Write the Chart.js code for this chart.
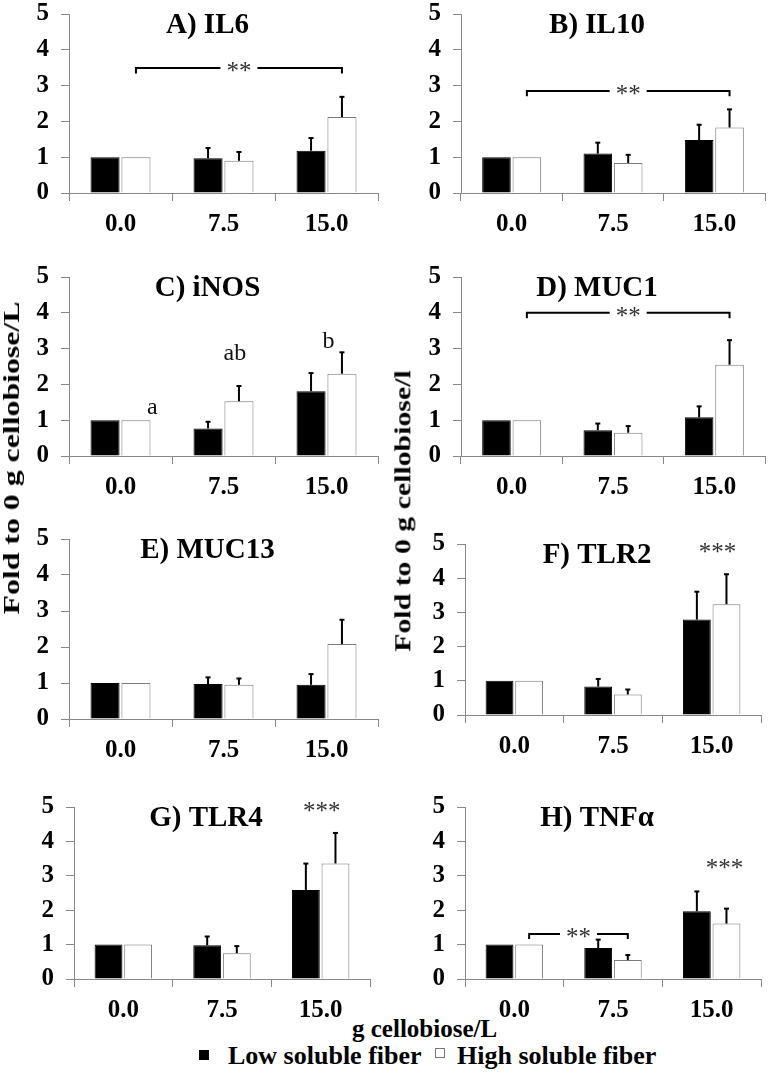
<!DOCTYPE html>
<html>
<head>
<meta charset="utf-8">
<script src="https://cdn.jsdelivr.net/npm/chart.js@4.4.1/dist/chart.umd.min.js"></script>
<style>
  html, body { margin:0; padding:0; background:#fff; }
  body { width:771px; height:1082px; position:relative; overflow:hidden; font-family:"Liberation Serif","Times New Roman",serif; }
  canvas.pc { position:absolute; }
  .rot { position:absolute; white-space:nowrap; font-weight:bold; font-size:24px; line-height:24px; color:#000; z-index:5; }
  .txt { position:absolute; white-space:nowrap; font-weight:bold; color:#000; }
  .sw { position:absolute; width:10px; height:10px; box-sizing:border-box; }
</style>
</head>
<body>
<div class="rot" id="ytl"></div>
<div class="rot" id="ytr"></div>
<div class="txt" id="xtitle" style="left:352px; top:1016px; font-size:25px; line-height:25px;"></div>
<span class="sw" style="left:199px; top:1050px; background:#000; border:1px solid #000;"></span>
<div class="txt" id="lg1" style="left:228px; top:1043px; font-size:26px; line-height:26px;"></div>
<span class="sw" style="left:435px; top:1048px; background:#fff; border:1px solid #777;"></span>
<div class="txt" id="lg2" style="left:457px; top:1043px; font-size:26px; line-height:26px;"></div>
<script>
// ---------- data ----------
const categories = ['0.0', '7.5', '15.0'];
const seriesNames = ['Low soluble fiber', 'High soluble fiber'];
const panelTitles = ['A) IL6', 'B) IL10', 'C) iNOS', 'D) MUC1', 'E) MUC13', 'F) TLR2', 'G) TLR4', 'H) TNFα'];
const yAxisTitles = ['Fold to 0 g cellobiose/L', 'Fold to 0 g cellobiose/l'];
const xAxisTitle = 'g cellobiose/L';
const yMin = 0, yMax = 5, yStep = 1;

const il6Low = [1.00, 0.97, 1.18];     const il6LowErr = [0, 0.30, 0.37];
const il6High = [1.00, 0.90, 2.12];    const il6HighErr = [0, 0.26, 0.58];
const il10Low = [1.00, 1.10, 1.48];    const il10LowErr = [0, 0.32, 0.44];
const il10High = [1.00, 0.84, 1.83];   const il10HighErr = [0, 0.24, 0.52];
const inosLow = [1.00, 0.77, 1.81];    const inosLowErr = [0, 0.20, 0.52];
const inosHigh = [1.00, 1.53, 2.30];   const inosHighErr = [0, 0.44, 0.61];
const muc1Low = [1.00, 0.72, 1.08];    const muc1LowErr = [0, 0.20, 0.32];
const muc1High = [1.00, 0.65, 2.55];   const muc1HighErr = [0, 0.20, 0.70];
const muc13Low = [1.00, 0.97, 0.95];   const muc13LowErr = [0, 0.20, 0.31];
const muc13High = [1.00, 0.95, 2.08];  const muc13HighErr = [0, 0.19, 0.69];
const tlr2Low = [1.00, 0.83, 2.79];    const tlr2LowErr = [0, 0.24, 0.83];
const tlr2High = [1.00, 0.60, 3.24];   const tlr2HighErr = [0, 0.16, 0.89];
const tlr4Low = [1.00, 0.98, 2.59];    const tlr4LowErr = [0, 0.27, 0.78];
const tlr4High = [1.00, 0.75, 3.36];   const tlr4HighErr = [0, 0.22, 0.90];
const tnfLow = [1.00, 0.90, 1.97];     const tnfLowErr = [0, 0.26, 0.59];
const tnfHigh = [1.00, 0.55, 1.61];    const tnfHighErr = [0, 0.16, 0.45];

// significance brackets (between high-fiber bars of two categories) and text marks
const il6Brackets = [{from:0, to:2, y:3.49, label:'**'}];
const il10Brackets = [{from:0, to:2, y:2.85, label:'**'}];
const muc1Brackets = [{from:0, to:2, y:4.00, label:'**'}];
const tnfBrackets = [{from:0, to:1, y:1.31, label:'**'}];
const inosLetters = [{cat:0.31, y:1.41, text:'a'}, {cat:1.11, y:2.91, text:'ab'}, {cat:2.02, y:3.25, text:'b'}];
const tlr2Stars = [{cat:2.06, y:4.86, text:'***'}];
const tlr4Stars = [{cat:2.01, y:4.98, text:'***'}];
const tnfStars = [{cat:2.13, y:3.30, text:'***'}];

// ---------- layout (plot rectangles: left, top, right, bottom) ----------
const panels = [
  {title:panelTitles[0], low:il6Low, lowErr:il6LowErr, high:il6High, highErr:il6HighErr, brackets:il6Brackets, marks:[], rect:[69,12,378,193]},
  {title:panelTitles[1], low:il10Low, lowErr:il10LowErr, high:il10High, highErr:il10HighErr, brackets:il10Brackets, marks:[], rect:[461,12,765,193]},
  {title:panelTitles[2], low:inosLow, lowErr:inosLowErr, high:inosHigh, highErr:inosHighErr, brackets:[], marks:inosLetters, rect:[69,275,378,456]},
  {title:panelTitles[3], low:muc1Low, lowErr:muc1LowErr, high:muc1High, highErr:muc1HighErr, brackets:muc1Brackets, marks:[], rect:[461,275,765,456]},
  {title:panelTitles[4], low:muc13Low, lowErr:muc13LowErr, high:muc13High, highErr:muc13HighErr, brackets:[], marks:[], rect:[69,537,378,719]},
  {title:panelTitles[5], low:tlr2Low, lowErr:tlr2LowErr, high:tlr2High, highErr:tlr2HighErr, brackets:[], marks:tlr2Stars, rect:[465,542,761,715]},
  {title:panelTitles[6], low:tlr4Low, lowErr:tlr4LowErr, high:tlr4High, highErr:tlr4HighErr, brackets:[], marks:tlr4Stars, rect:[74,805,370,979]},
  {title:panelTitles[7], low:tnfLow, lowErr:tnfLowErr, high:tnfHigh, highErr:tnfHighErr, brackets:tnfBrackets, marks:tnfStars, rect:[465,805,761,979]}
];

const FONT = '"Liberation Serif","Times New Roman",serif';
const PAD_L = 5, YW = 70, PAD_T = 25, PAD_R = 10, XH = 50, PAD_B = 5;

const extrasPlugin = {
  id: 'panelExtras',
  afterDatasetsDraw(chart, args, opts) {
    const ctx = chart.ctx, xs = chart.scales.x, ys = chart.scales.y, ca = chart.chartArea;
    const catW = xs.getPixelForValue(1) - xs.getPixelForValue(0);
    ctx.save();
    // error bars (upper only)
    chart.data.datasets.forEach((ds, di) => {
      const meta = chart.getDatasetMeta(di);
      const errs = opts.errors[di];
      meta.data.forEach((bar, i) => {
        const e = errs[i];
        if (!e) return;
        const v = ds.data[i];
        const y0 = ys.getPixelForValue(v), y1 = ys.getPixelForValue(v + e);
        ctx.strokeStyle = '#000';
        ctx.lineWidth = 2;
        ctx.beginPath(); ctx.moveTo(bar.x, y0); ctx.lineTo(bar.x, y1); ctx.stroke();
        ctx.beginPath(); ctx.moveTo(bar.x - 2.5, y1 + 0.5); ctx.lineTo(bar.x + 2.5, y1 + 0.5); ctx.stroke();
      });
    });
    // brackets
    const highMeta = chart.getDatasetMeta(1);
    (opts.brackets || []).forEach(b => {
      const x1 = highMeta.data[b.from].x, x2 = highMeta.data[b.to].x;
      const yy = ys.getPixelForValue(b.y), yd = ys.getPixelForValue(b.y - 0.15);
      ctx.font = '25px ' + FONT;
      const tw = ctx.measureText(b.label).width;
      const cx = (x1 + x2) / 2;
      ctx.strokeStyle = '#000';
      ctx.lineWidth = 2;
      ctx.beginPath();
      ctx.moveTo(x1, yd); ctx.lineTo(x1, yy); ctx.lineTo(cx - tw/2 - 6, yy);
      ctx.moveTo(cx + tw/2 + 6, yy); ctx.lineTo(x2, yy); ctx.lineTo(x2, yd);
      ctx.stroke();
      ctx.fillStyle = '#333';
      ctx.textAlign = 'center';
      ctx.textBaseline = 'alphabetic';
      ctx.fillText(b.label, cx, yy + 11);
    });
    // marks
    (opts.marks || []).forEach(m => {
      const px = xs.getPixelForValue(0) + m.cat * catW;
      const py = ys.getPixelForValue(m.y);
      const star = m.text.indexOf('*') >= 0;
      ctx.font = (star ? '25px ' : '24px ') + FONT;
      ctx.fillStyle = star ? '#333' : '#111';
      ctx.textAlign = 'center';
      if (star) { ctx.textBaseline = 'alphabetic'; ctx.fillText(m.text, px, py + 11); }
      else { ctx.textBaseline = 'middle'; ctx.fillText(m.text, px, py + 2); }
    });
    // panel title
    ctx.font = 'bold 29px ' + FONT;
    ctx.fillStyle = '#000';
    ctx.textAlign = 'center';
    ctx.textBaseline = 'middle';
    ctx.fillText(opts.title, (ca.left + ca.right) / 2 - 16, ca.top + 12);
    ctx.restore();
  }
};

panels.forEach((p) => {
  const [L, T, R, B] = p.rect;
  const cv = document.createElement('canvas');
  cv.className = 'pc';
  const w = (R - L) + PAD_L + YW + PAD_R;
  const h = (B - T) + PAD_T + XH + PAD_B;
  cv.width = w; cv.height = h;
  cv.style.left = (L - PAD_L - YW) + 'px';
  cv.style.top = (T - PAD_T) + 'px';
  cv.style.width = w + 'px'; cv.style.height = h + 'px';
  document.body.appendChild(cv);
  new Chart(cv, {
    type: 'bar',
    data: {
      labels: categories,
      datasets: [
        {label: seriesNames[0], data: p.low, backgroundColor:'#000', borderColor:'#000', borderWidth:1, categoryPercentage:0.6, barPercentage:0.94},
        {label: seriesNames[1], data: p.high, backgroundColor:'#fff', borderColor:'#7a7a7a', borderWidth:1, categoryPercentage:0.6, barPercentage:0.94}
      ]
    },
    options: {
      responsive: false,
      devicePixelRatio: 1,
      animation: false,
      layout: { padding: {left:PAD_L, top:PAD_T, right:PAD_R, bottom:PAD_B} },
      plugins: {
        legend: {display:false}, tooltip: {enabled:false}, title: {display:false},
        panelExtras: { title: p.title, errors: [p.lowErr, p.highErr], brackets: p.brackets, marks: p.marks }
      },
      scales: {
        x: {
          offset: true,
          grid: { display:true, offset:true, drawOnChartArea:false, drawTicks:true, tickLength:8, color:'#888', lineWidth:1 },
          border: { display:true, color:'#888', width:1 },
          ticks: { color:'#000', font:{family:FONT, size:25, weight:'bold'}, padding:9, maxRotation:0 },
          afterFit: (s) => { s.height = XH; }
        },
        y: {
          min: yMin, max: yMax,
          grid: { display:true, drawOnChartArea:false, drawTicks:true, tickLength:8, color:'#888', lineWidth:1 },
          border: { display:true, color:'#888', width:1 },
          ticks: { stepSize: yStep, color:'#000', font:{family:FONT, size:25, weight:'bold'}, padding:12 },
          afterFit: (s) => { s.width = YW; }
        }
      }
    },
    plugins: [extrasPlugin]
  });
});

// rotated y-axis titles, stretched along their length to the reference span
function placeRot(id, text, cx, cy, span) {
  const el = document.getElementById(id);
  el.textContent = text;
  const w = el.offsetWidth;
  const s = span / w;
  el.style.left = (cx - w / 2) + 'px';
  el.style.top = (cy - 12) + 'px';
  el.style.transformOrigin = '50% 50%';
  el.style.transform = 'rotate(-90deg) scaleX(' + s.toFixed(3) + ')';
}
placeRot('ytl', yAxisTitles[0], 11, 458, 313);
placeRot('ytr', yAxisTitles[1], 402, 511, 282);
document.getElementById('xtitle').textContent = xAxisTitle;
document.getElementById('lg1').textContent = seriesNames[0];
document.getElementById('lg2').textContent = seriesNames[1];
</script>
</body>
</html>
